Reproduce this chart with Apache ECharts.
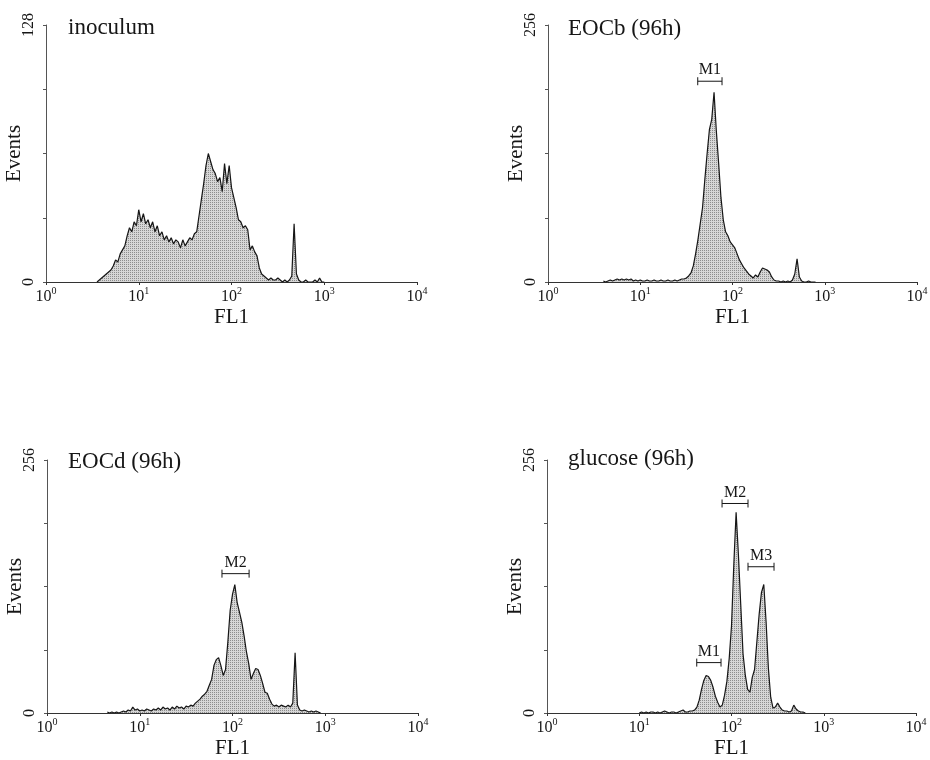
<!DOCTYPE html>
<html>
<head>
<meta charset="utf-8">
<script src="https://cdn.jsdelivr.net/npm/echarts@6/dist/echarts.min.js"></script>
<style>
  html, body { margin: 0; padding: 0; background: #fff; }
  #chart { width: 930px; height: 760px; }
</style>
</head>
<body>
<div id="chart"></div>
<script>
// histogram bins: width in decades of FL1, each panel starts at its own log10 value
const binStep = 0.025;

const inoculumStart = 0.55;
const inoculumCounts = [0,1,2,3,4,5,6,8,11,10,14,16,18,23,27,25,30,28,36,30,34,29,31,27,30,25,28,23,25,21,
  23,20,22,19,21,20,17,21,18,20,22,21,24,25,33,41,49,58,64,60,56,54,50,52,45,59,49,58,47,42,
  37,31,30,27,28,26,16,18,15,13,7,4,3,2,1,2,1,1,2,1,0,1,0,1,3,29,4,1,0,0,1,0,0,0,1,0,2,0,0];

const eocbStart = 0.6;
const eocbCounts = [1,0,1,2,1,2,3,2,3,2,3,2,3,1,2,1,2,1,1,2,1,1,2,1,1,2,1,1,2,1,1,2,1,2,3,3,
  4,6,9,16,28,42,58,74,102,128,152,162,189,150,118,84,62,50,46,40,37,34,28,22,18,14,11,8,6,4,7,5,
  10,14,13,12,10,5,2,1,1,0,1,0,1,0,2,8,23,5,1,0,0,1,0,0,0];

const eocdStart = 0.65;
const eocdCounts = [1,0,1,0,1,0,1,2,1,3,2,6,3,4,2,3,2,4,3,2,4,3,5,3,6,4,5,3,6,4,7,5,6,4,7,6,8,7,
  10,12,14,17,19,22,28,34,48,54,56,48,38,44,72,104,120,130,112,102,92,78,62,50,34,40,45,44,38,30,
  21,20,14,9,7,8,6,8,7,6,8,6,10,61,8,3,2,3,2,1,2,1,2,1,0];

const glucoseStart = 1.0;
const glucoseCounts = [0,1,0,1,0,1,1,0,1,0,1,2,1,0,1,1,0,1,2,3,1,1,2,2,3,6,13,24,33,38,37,33,26,17,
  11,6,8,18,32,55,88,150,203,160,110,60,38,24,21,36,44,72,100,122,130,92,45,16,5,6,10,6,3,2,2,1,2,
  8,4,2,1,1,0];

// marker gates: [from, to, height]
const eocbGates = [[42, 77, 200]];
const eocbGateNames = ['M1'];
const eocdGates = [[77, 151, 141]];
const eocdGateNames = ['M2'];
const glucoseGates = [[42, 77, 51], [79, 151, 212], [151, 289, 148]];
const glucoseGateNames = ['M1', 'M2', 'M3'];

const titles = ['inoculum', 'EOCb (96h)', 'EOCd (96h)', 'glucose (96h)'];
const yMax = [128, 256, 256, 256];

const serif = '"Liberation Serif", "DejaVu Serif", serif';
const ink = '#161616';

function toPairs(start, counts) {
  return counts.map((c, i) => [Math.pow(10, start + i * binStep), c]);
}

const hists = [
  toPairs(inoculumStart, inoculumCounts),
  toPairs(eocbStart, eocbCounts),
  toPairs(eocdStart, eocdCounts),
  toPairs(glucoseStart, glucoseCounts)
];

// stippled grey fill like the printed histogram
const dots = document.createElement('canvas');
dots.width = 2; dots.height = 2;
const dctx = dots.getContext('2d');
dctx.fillStyle = '#d6d6d6'; dctx.fillRect(0, 0, 2, 2);
dctx.fillStyle = '#8c8c8c'; dctx.fillRect(0, 0, 1, 1);

const grids = [
  { left: 46, top: 25, width: 371, height: 257 },
  { left: 548, top: 25, width: 369, height: 257 },
  { left: 47, top: 460, width: 371, height: 253 },
  { left: 547, top: 460, width: 369, height: 253 }
].map(g => Object.assign({ outerBoundsMode: 'none', containLabel: false }, g));
const titlePos = [[68, 16], [568, 17], [68, 450], [568, 447]];

function gateRenderer(names) {
  return function (params, api) {
    const a = api.coord([api.value(0), api.value(2)]);
    const b = api.coord([api.value(1), api.value(2)]);
    const st = { stroke: ink, lineWidth: 1 };
    return {
      type: 'group',
      children: [
        { type: 'line', shape: { x1: a[0], y1: a[1], x2: b[0], y2: b[1] }, style: st },
        { type: 'line', shape: { x1: a[0], y1: a[1] - 4, x2: a[0], y2: a[1] + 4 }, style: st },
        { type: 'line', shape: { x1: b[0], y1: b[1] - 4, x2: b[0], y2: b[1] + 4 }, style: st },
        {
          type: 'text', x: (a[0] + b[0]) / 2, y: a[1] - 3,
          style: { text: names[params.dataIndex], fill: ink, fontSize: 16, fontFamily: serif,
                   align: 'center', verticalAlign: 'bottom' }
        }
      ]
    };
  };
}

const chart = echarts.init(document.getElementById('chart'));

const xAxes = grids.map((g, i) => ({
  type: 'log', logBase: 10, min: 1, max: 10000, gridIndex: i,
  name: 'FL1', nameLocation: 'middle', nameGap: 25, nameMoveOverlap: false,
  nameTextStyle: { fontFamily: serif, fontSize: 21, color: ink },
  axisLine: { lineStyle: { color: '#333', width: 1 } },
  axisTick: { show: true, length: 3, lineStyle: { color: '#333' } },
  splitLine: { show: false },
  axisLabel: {
    margin: 4, color: ink,
    formatter: v => '{b|10}{s|' + Math.round(Math.log10(v)) + '}',
    rich: {
      b: { fontFamily: serif, fontSize: 16, lineHeight: 19, verticalAlign: 'bottom', color: ink },
      s: { fontFamily: serif, fontSize: 10, lineHeight: 12, verticalAlign: 'top', color: ink }
    }
  }
}));

const yAxes = grids.map((g, i) => ({
  type: 'value', min: 0, max: yMax[i], interval: yMax[i] / 4, gridIndex: i,
  name: 'Events', nameLocation: 'middle', nameGap: 21, nameRotate: 90, nameMoveOverlap: false,
  nameTextStyle: { fontFamily: serif, fontSize: 21, color: ink },
  axisLine: { show: true, lineStyle: { color: '#555', width: 1 } },
  axisTick: { show: true, length: 3, lineStyle: { color: '#555' } },
  splitLine: { show: false },
  axisLabel: {
    rotate: 90, margin: 9, fontFamily: serif, fontSize: 16, color: ink,
    formatter: v => (v === 0 || v === yMax[i]) ? String(v) : ''
  }
}));

const series = hists.map((d, i) => ({
  type: 'line', xAxisIndex: i, yAxisIndex: i, data: d,
  symbol: 'none', smooth: false,
  lineStyle: { color: ink, width: 1.2 },
  areaStyle: { color: { image: dots, repeat: 'repeat' }, opacity: 1 },
  z: 2
}));

[[1, eocbGates, eocbGateNames], [2, eocdGates, eocdGateNames], [3, glucoseGates, glucoseGateNames]]
  .forEach(([i, gates, names]) => {
    series.push({
      type: 'custom', xAxisIndex: i, yAxisIndex: i,
      data: gates, encode: { x: [0, 1], y: 2 },
      renderItem: gateRenderer(names), z: 3
    });
  });

chart.setOption({
  backgroundColor: '#fff',
  animation: false,
  title: titles.map((t, i) => ({
    text: t, left: titlePos[i][0], top: titlePos[i][1], padding: 0,
    textStyle: { fontFamily: serif, fontSize: 23, fontWeight: 'normal', color: ink }
  })),
  grid: grids,
  xAxis: xAxes,
  yAxis: yAxes,
  series: series
});

window.addEventListener('resize', function () {
  chart.resize();
});
</script>
</body>
</html>
